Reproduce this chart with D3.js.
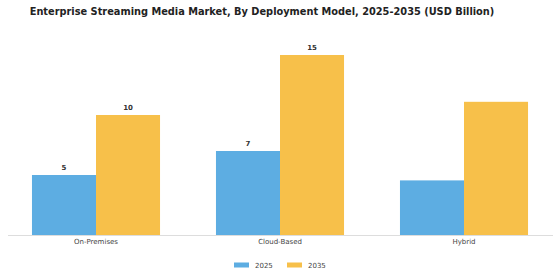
<!DOCTYPE html>
<html>
<head>
<meta charset="utf-8">
<script src="https://cdn.jsdelivr.net/npm/d3@7"></script>
<style>
  body { margin: 0; background: #fff; }
  text { font-family: "DejaVu Sans", sans-serif; }
</style>
</head>
<body>
<script>
var width = 560;
var height = 280;

var categories = ["On-Premises", "Cloud-Based", "Hybrid"];
var seriesNames = ["2025", "2035"];
var values2025 = [5, 7, 4.55];
var values2035 = [10, 15, 11.1];
var shownLabels2025 = ["5", "7", ""];
var shownLabels2035 = ["10", "15", ""];
var colors = ["#5DADE2", "#F7C04A"];

var svg = d3.select("body").append("svg")
    .attr("width", width)
    .attr("height", height);

svg.append("text")
    .attr("x", 262)
    .attr("y", 14.5)
    .attr("text-anchor", "middle")
    .attr("font-size", 9.8)
    .attr("font-weight", "bold")
    .attr("fill", "#222")
    .text("Enterprise Streaming Media Market, By Deployment Model, 2025-2035 (USD Billion)");

var x0 = d3.scaleBand()
    .domain(categories)
    .range([4, 556])
    .paddingInner(0.304)
    .paddingOuter(0.152);

var x1 = d3.scaleBand()
    .domain(seriesNames)
    .range([0, x0.bandwidth()]);

var y = d3.scaleLinear()
    .domain([0, 15])
    .range([235, 55]);

var rows = categories.map(function(c, i) {
    return {
        category: c,
        bars: [
            { key: "2025", value: values2025[i], label: shownLabels2025[i] },
            { key: "2035", value: values2035[i], label: shownLabels2035[i] }
        ]
    };
});

var groups = svg.selectAll(".group")
    .data(rows)
    .enter()
    .append("g")
    .attr("class", "group")
    .attr("transform", function(d) { return "translate(" + x0(d.category) + ",0)"; });

groups.selectAll("rect")
    .data(function(d) { return d.bars; })
    .enter()
    .append("rect")
    .attr("x", function(d) { return x1(d.key); })
    .attr("y", function(d) { return y(d.value); })
    .attr("width", x1.bandwidth())
    .attr("height", function(d) { return y(0) - y(d.value); })
    .attr("fill", function(d, i) { return colors[i]; });

groups.selectAll(".val")
    .data(function(d) { return d.bars; })
    .enter()
    .append("text")
    .attr("class", "val")
    .attr("x", function(d) { return x1(d.key) + x1.bandwidth() / 2; })
    .attr("y", function(d) { return y(d.value) - 5; })
    .attr("text-anchor", "middle")
    .attr("font-size", 7)
    .attr("font-weight", "bold")
    .attr("fill", "#333")
    .text(function(d) { return d.label; });

// -- axis --
var xAxis = d3.axisBottom(x0).tickSize(0).tickPadding(4);
var axisG = svg.append("g")
    .attr("transform", "translate(0," + y(0) + ")")
    .call(xAxis);
axisG.select(".domain").attr("stroke", "#ddd").attr("d", "M8,0.5H553");
axisG.selectAll("text")
    .attr("font-size", 7)
    .attr("fill", "#444")
    .attr("font-family", "DejaVu Sans, sans-serif");

// -- legend --
var legend = svg.selectAll(".legend")
    .data(seriesNames)
    .enter()
    .append("g")
    .attr("class", "legend")
    .attr("transform", function(d, i) { return "translate(" + (234 + i * 53) + ",265)"; });

legend.append("rect")
    .attr("x", 0)
    .attr("y", -2.5)
    .attr("width", 15)
    .attr("height", 5)
    .attr("fill", function(d, i) { return colors[i]; });

legend.append("text")
    .attr("x", 21)
    .attr("y", 3)
    .attr("font-size", 7)
    .attr("fill", "#444")
    .text(function(d) { return d; });
</script>
</body>
</html>
